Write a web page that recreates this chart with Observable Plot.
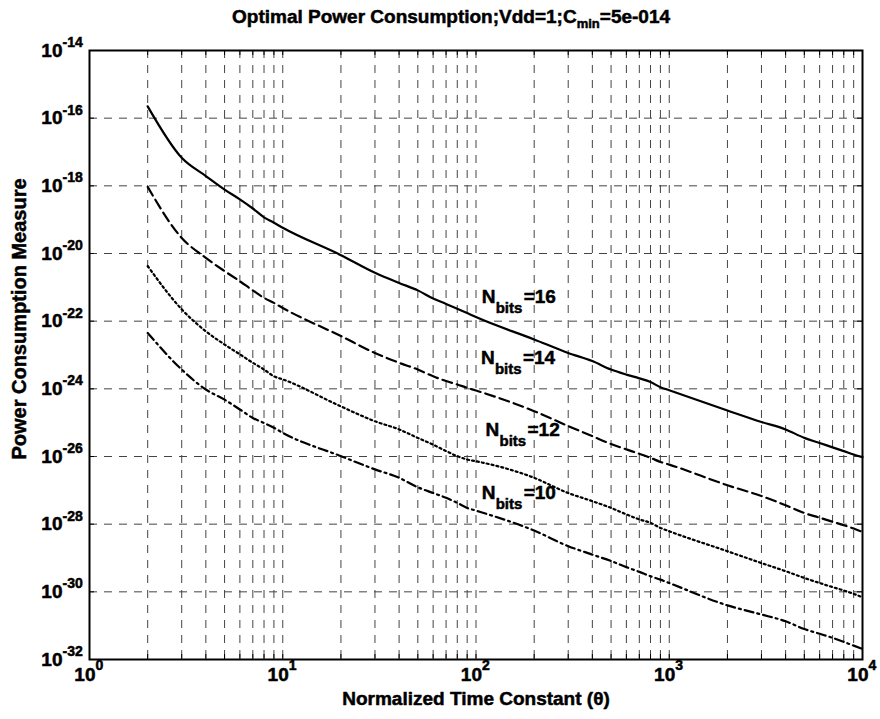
<!DOCTYPE html>
<html><head><meta charset="utf-8">
<script src="https://cdn.jsdelivr.net/npm/d3@7"></script>
<script src="https://cdn.jsdelivr.net/npm/@observablehq/plot@0.6"></script>
<style>
body{margin:0;background:#fff;}
#wrap{position:relative;width:880px;height:719px;font-family:"Liberation Sans",Arial,sans-serif;color:#000;}
#chart{position:absolute;left:0;top:0;}
#title{position:absolute;left:232px;top:6px;font-size:19px;font-weight:bold;white-space:nowrap;line-height:22px;-webkit-text-stroke:0.5px #000;}
#title sub{font-size:13px;vertical-align:-5px;line-height:0;}
</style></head><body>
<div id="wrap"><div id="chart"></div><div id="title">Optimal Power Consumption;Vdd=1;C<sub>min</sub>=5e-014</div></div>
<script>
// Normalized time constant samples
const theta = [2,3,4,5,6,7,8,9,10,20,30,40,50,60,70,80,90,100,200,300,400,500,600,700,800,900,1000,2000,3000,4000,5000,6000,7000,8000,9000,10000];
// log10 of power consumption measure
const logP16 = [-15.65,-17.17,-17.71,-18.11,-18.40,-18.67,-18.93,-19.09,-19.24,-20.05,-20.57,-20.87,-21.09,-21.33,-21.49,-21.63,-21.76,-21.88,-22.54,-22.94,-23.18,-23.43,-23.58,-23.69,-23.80,-23.95,-24.04,-24.64,-24.98,-25.20,-25.45,-25.60,-25.73,-25.84,-25.94,-26.02];
const logP14 = [-18.03,-19.54,-20.13,-20.52,-20.82,-21.09,-21.31,-21.46,-21.61,-22.44,-22.94,-23.23,-23.43,-23.63,-23.77,-23.87,-23.97,-24.05,-24.66,-25.10,-25.40,-25.63,-25.79,-25.92,-26.04,-26.16,-26.24,-26.85,-27.17,-27.44,-27.67,-27.81,-27.93,-28.03,-28.13,-28.23];
const logP12 = [-20.37,-21.65,-22.30,-22.69,-22.98,-23.23,-23.43,-23.63,-23.72,-24.52,-24.96,-25.20,-25.45,-25.65,-25.84,-25.99,-26.09,-26.14,-26.63,-27.08,-27.32,-27.52,-27.71,-27.86,-27.96,-28.11,-28.21,-28.80,-29.15,-29.39,-29.59,-29.74,-29.86,-29.96,-30.06,-30.16];
const logP10 = [-22.35,-23.43,-24.02,-24.32,-24.61,-24.86,-25.01,-25.15,-25.30,-25.99,-26.38,-26.63,-26.91,-27.08,-27.22,-27.37,-27.52,-27.60,-28.19,-28.65,-28.90,-29.09,-29.27,-29.41,-29.54,-29.64,-29.74,-30.40,-30.67,-30.87,-31.10,-31.24,-31.36,-31.48,-31.59,-31.69];
// Tick labels (exponents of 10)
const xTickExp = [0,1,2,3,4];
const yTickExp = [-14,-16,-18,-20,-22,-24,-26,-28,-30,-32];
// Curve annotations
const labelBits = [16,14,12,10];
const labelTheta = [107,106,112,107];
const labelLogP = [-21.47,-23.27,-25.40,-27.26];

const seriesDefs = [
  {bits:16, v:logP16, dash:null},
  {bits:14, v:logP14, dash:"10,5"},
  {bits:12, v:logP12, dash:"2,3"},
  {bits:10, v:logP10, dash:"9,4,2,4"}
];

const xDomain = [1, 1e4], yDomain = [1e-32, 1e-14];
const xGrid = d3.scaleLog().domain(xDomain).ticks().filter(v => v > xDomain[0] && v < xDomain[1]);
const xAllTicks = d3.scaleLog().domain(xDomain).ticks();
const yMajor = yTickExp.map(e => Math.pow(10, e));
const yGrid = yMajor.filter(v => v > yDomain[0] && v < yDomain[1]);
const xMajor = xTickExp.map(e => Math.pow(10, e));

const font = "Liberation Sans, Arial, sans-serif";
const heavy = {fontWeight:"bold", stroke:"#000", strokeWidth:0.5, fill:"#000"};
const lineMarks = seriesDefs.map(s => Plot.line(theta.map((t,i) => ({t, p: Math.pow(10, s.v[i])})),
  {x:"t", y:"p", stroke:"#000", strokeWidth:2.2, curve:"monotone-x", strokeDasharray:s.dash ?? undefined}));

const labelData = labelBits.map((b,i) => ({b, x: labelTheta[i], y: Math.pow(10, labelLogP[i])}));

const chart = Plot.plot({
  width: 880, height: 719,
  marginLeft: 89, marginRight: 18, marginTop: 50, marginBottom: 60,
  style: {fontFamily: font, background: "#fff", color:"#000"},
  x: {type:"log", domain:xDomain, axis:null},
  y: {type:"log", domain:yDomain, axis:null},
  marks: [
    Plot.ruleX(xGrid, {x:d=>d, stroke:"#444", strokeWidth:1, strokeDasharray:"8,7"}),
    Plot.ruleY(yGrid, {y:d=>d, stroke:"#444", strokeWidth:1, strokeDasharray:"8,7"}),
    Plot.tickX(xAllTicks, {x:d=>d, insetTop:604, stroke:"#000"}),
    Plot.tickX(xAllTicks, {x:d=>d, insetBottom:604, stroke:"#000"}),
    Plot.tickY(yMajor, {y:d=>d, insetRight:768, stroke:"#000"}),
    Plot.tickY(yMajor, {y:d=>d, insetLeft:768, stroke:"#000"}),
    ...lineMarks,
    Plot.frame({stroke:"#000", strokeWidth:2}),
    // x tick labels
    Plot.text(xMajor, {x:d=>d, frameAnchor:"bottom", text:()=>"10", textAnchor:"end", dx:6, dy:21, fontSize:19, ...heavy}),
    Plot.text(xMajor, {x:d=>d, frameAnchor:"bottom", text:(d,i)=>String(xTickExp[i]), textAnchor:"start", dx:6, dy:10.5, fontSize:14, ...heavy}),
    // y tick labels
    Plot.text(yMajor, {y:d=>d, frameAnchor:"left", text:()=>"10", textAnchor:"end", dx:-27, fontSize:19, ...heavy}),
    Plot.text(yMajor, {y:d=>d, frameAnchor:"left", text:(d,i)=>String(yTickExp[i]), textAnchor:"start", dx:-27, dy:-8, fontSize:14, ...heavy}),
    // axis labels
    Plot.text(["Normalized Time Constant (\u03b8)"], {frameAnchor:"bottom", textAnchor:"middle", dy:45, fontSize:19, ...heavy}),
    Plot.text(["Power Consumption Measure"], {frameAnchor:"left", textAnchor:"middle", dx:-70, dy:-36, rotate:-90, fontSize:20, ...heavy}),
    // curve labels N_bits=..
    Plot.text(labelData, {x:"x", y:"y", text:()=>"N", textAnchor:"start", lineAnchor:"bottom", fontSize:19, ...heavy}),
    Plot.text(labelData, {x:"x", y:"y", text:()=>"bits", textAnchor:"start", lineAnchor:"bottom", dx:14, dy:10, fontSize:15, ...heavy}),
    Plot.text(labelData, {x:"x", y:"y", text:d=>"=" + d.b, textAnchor:"start", lineAnchor:"bottom", dx:42, fontSize:19, ...heavy})
  ]
});
document.getElementById("chart").appendChild(chart);
</script>
</body></html>
